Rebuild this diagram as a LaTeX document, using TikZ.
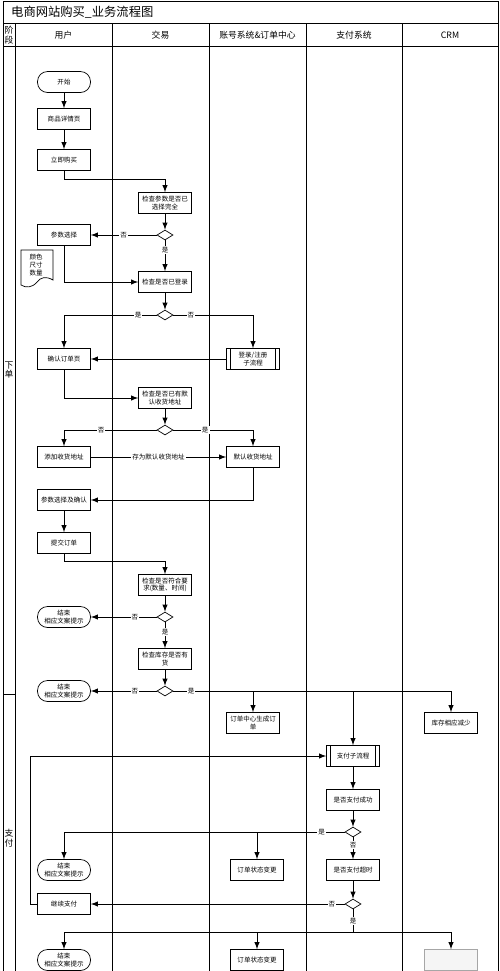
\documentclass[tikz,border=0pt]{standalone}
\usepackage{fontspec}
\setmainfont{Noto Sans CJK SC}
\usepackage{tikz}
\usetikzlibrary{arrows,shapes.geometric}

\begin{document}
\begin{tikzpicture}[x=0.02cm,y=-0.02cm,line width=0.4pt,>=latex,
  font=\fontsize{3.7}{4.4}\selectfont,
  box/.style={draw,rectangle,minimum width=1.06cm,minimum height=0.42cm,inner sep=0.5pt,align=center},
  term/.style={box,rounded corners=0.2cm},
  subproc/.style={box},
  dia/.style={draw,diamond,aspect=1.6,minimum width=0.32cm,minimum height=0.2cm,inner sep=0pt},
  lbl/.style={fill=white,inner sep=0.6pt},
  hdr/.style={font=\fontsize{5}{6}\selectfont},
  phase/.style={font=\fontsize{5}{5.6}\selectfont,align=center,inner sep=0pt}]
\useasboundingbox (0,0) rectangle (500,971);

% frame and lanes
\draw (3,1) -- (498,1) (3,1) -- (3,980) (498,1) -- (498,980);
\draw (3,23) -- (498,23) (3,46) -- (498,46) (3,694) -- (15,694);
\foreach \x in {15,112,209,306,402}
  \draw (\x,23) -- (\x,980);

\node[anchor=west,font=\fontsize{7}{8}\selectfont] (title) at (5,12) {电商网站购买\_业务流程图};
\node[phase] (ph0) at (9,35) {阶\\段};
\node[hdr] (h1) at (63.5,35) {用户};
\node[hdr] (h2) at (160.5,35) {交易};
\node[hdr] (h3) at (257.5,35) {账号系统\&订单中心};
\node[hdr] (h4) at (354,35) {支付系统};
\node[hdr] (h5) at (450,35) {CRM};
\node[phase] (ph1) at (9,370) {下\\单};
\node[phase] (ph2) at (9,838) {支\\付};

% steps
\node[term] (start) at (64,82) {开始};
\node[box] (detail) at (64,119) {商品详情页};
\node[box] (buy) at (64,160) {立即购买};
\node[box] (chkparam) at (165,203) {检查参数是否已\\选择完全};
\node[dia] (d1) at (165,235) {};
\node[box] (param) at (64,235) {参数选择};
\node[align=center,inner sep=0pt] (spec) at (36,265) {颜色\\尺寸\\数量};
\draw (21,250) -- (53,250) -- (53,280) .. controls (46,276) and (41,277) .. (37,282)
  .. controls (32,288) and (26,288) .. (21,285) -- cycle;
\node[box] (login) at (165,282) {检查是否已登录};
\node[dia] (d2) at (165,315) {};
\node[box] (confirm) at (64,359) {确认订单页};
\node[subproc] (loginsub) at (253,359) {登录/注册\\子流程};
\node[box] (chkaddr) at (165,398) {检查是否已有默\\认收货地址};
\node[dia] (d3) at (165,430) {};
\node[box] (addaddr) at (64,457) {添加收货地址};
\node[box] (defaddr) at (253,457) {默认收货地址};
\node[box] (confirm2) at (64,500) {参数选择及确认};
\node[box] (submit) at (64,543) {提交订单};
\node[box] (chkreq) at (165,585) {检查是否符合要\\求(数量、时间)};
\node[dia] (d4) at (165,617) {};
\node[term] (end1) at (64,617) {结束\\相应文案提示};
\node[box] (chkstock) at (165,659) {检查库存是否有\\货};
\node[dia] (d5) at (165,691) {};
\node[term] (end2) at (64,691) {结束\\相应文案提示};
\node[box] (ordergen) at (253,723) {订单中心生成订\\单};
\node[box] (stockdec) at (451,723) {库存相应减少};
\node[subproc] (paysub) at (353,756) {支付子流程};
\node[box] (paysucc) at (353,800) {是否支付成功};
\node[dia] (d6) at (353,832) {};
\node[term] (end3) at (64,870) {结束\\相应文案提示};
\node[box] (state1) at (257,870) {订单状态变更};
\node[box] (timeout) at (353,870) {是否支付超时};
\node[dia] (d7) at (353,904) {};
\node[box] (goon) at (64,904) {继续支付};
\node[term] (end4) at (64,960) {结束\\相应文案提示};
\node[box] (state2) at (257,960) {订单状态变更};
\node[box,draw=gray!70,fill=gray!8] (crmbox) at (451,960) {};
\coordinate (j7) at (353,932);

\foreach \n in {loginsub,paysub}
  \draw ([xshift=0.09cm]\n.north west) -- ([xshift=0.09cm]\n.south west)
        ([xshift=-0.09cm]\n.north east) -- ([xshift=-0.09cm]\n.south east);

% connectors
\draw[->] (start) -- (detail);
\draw[->] (detail) -- (buy);
\draw[->] (buy.south) -- ++(0,8) -| (chkparam.north);
\draw[->] (chkparam) -- (d1);
\draw[->] (d1) -- node[lbl]{否} (param);
\draw[->] (d1) -- node[lbl,pos=0.31]{是} (login);
\draw[->] (param.south) |- (login.west);
\draw[->] (login) -- (d2);
\draw[->] (d2.west) -| node[lbl,pos=0.1]{是} (confirm.north);
\draw[->] (d2.east) -| node[lbl,pos=0.11]{否} (loginsub.north);
\draw[->] (loginsub) -- (confirm);
\draw[->] (confirm.south) |- (chkaddr.west);
\draw[->] (chkaddr) -- (d3);
\draw[->] (d3.west) -| node[lbl,pos=0.3]{否} (addaddr.north);
\draw[->] (d3.east) -| node[lbl,pos=0.2]{是} (defaddr.north);
\draw[->] (addaddr) -- node[lbl]{存为默认收货地址} (defaddr);
\draw[->] (defaddr.south) |- (confirm2.east);
\draw[->] (confirm2) -- (submit);
\draw[->] (submit.south) -- ++(0,7) -| (chkreq.north);
\draw[->] (chkreq) -- (d4);
\draw[->] (d4) -- node[lbl,pos=0.33]{否} (end1);
\draw[->] (d4) -- node[lbl,pos=0.37]{是} (chkstock);
\draw[->] (chkstock) -- (d5);
\draw[->] (d5) -- node[lbl,pos=0.33]{否} (end2);
\draw[->] (d5.east) -| (ordergen.north);
\draw[->] (d5.east) -| (paysub.north);
\draw[->] (d5.east) -| node[lbl,pos=0.032]{是} (stockdec.north);
\draw[->] (goon.west) -- ++(-7,0) |- (paysub.west);
\draw[->] (paysub) -- (paysucc);
\draw[->] (paysucc) -- (d6);
\draw[->] (d6.west) -| (state1.north);
\draw[->] (d6.west) -| node[lbl,pos=0.041]{是} (end3.north);
\draw[->] (d6) -- node[lbl,pos=0.35]{否} (timeout);
\draw[->] (timeout) -- (d7);
\draw[->] (d7) -- node[lbl,pos=0.05]{否} (goon);
\draw (d7) -- node[lbl]{是} (j7);
\draw[->] (j7) -| (end4.north);
\draw[->] (j7) -| (state2.north);
\draw[->] (j7) -| (crmbox.north);
\end{tikzpicture}
\end{document}
